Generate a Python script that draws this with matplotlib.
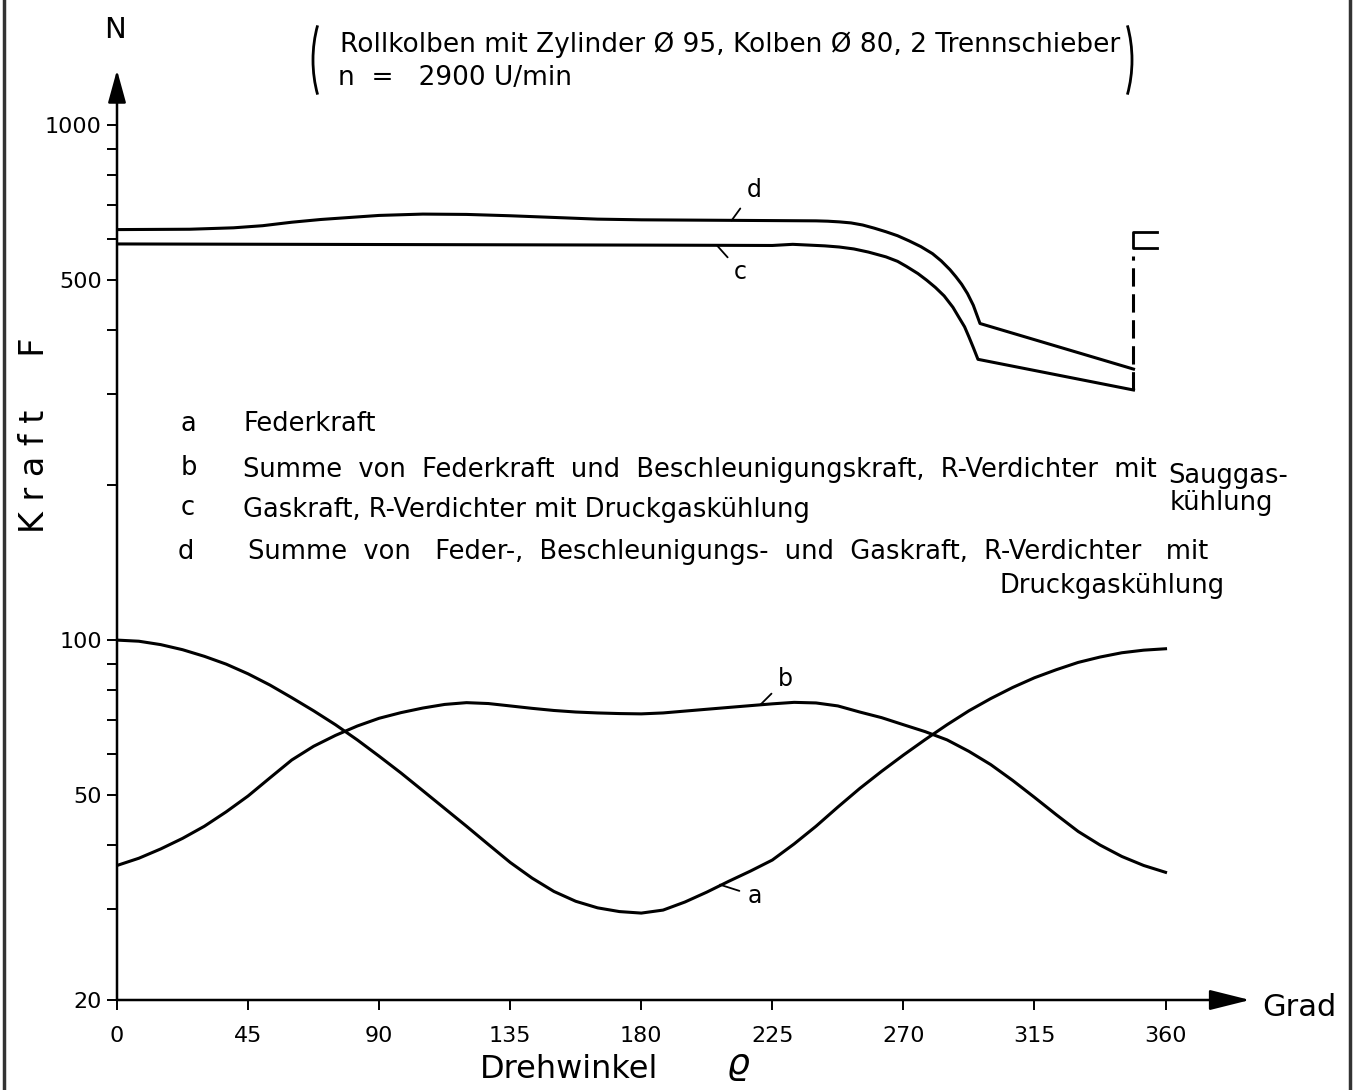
import matplotlib
matplotlib.use("Agg")
import matplotlib.pyplot as plt
from matplotlib.patches import Arc
from matplotlib.lines import Line2D

plt.rcParams['font.family'] = ['DejaVu Sans']

# Drehwinkel (Grad) und Kraft (N)
winkel_a = [0, 7.5, 15, 22.5, 30, 37.5, 45, 52.5, 60, 67.5, 75, 82.5, 90, 97.5, 105, 112.5,
            120, 127.5, 135, 142.5, 150, 157.5, 165, 172.5, 180, 187.5, 195, 202.5, 210,
            217.5, 225, 232.5, 240, 247.5, 255, 262.5, 270, 277.5, 285, 292.5, 300, 307.5,
            315, 322.5, 330, 337.5, 345, 352.5, 360]
kraft_a = [100, 99.5, 98, 95.8, 93, 89.8, 86, 81.8, 77.3, 72.9, 68.5, 64, 59.5, 55.2, 51, 47.1,
           43.5, 40.1, 37, 34.5, 32.5, 31.1, 30.2, 29.7, 29.5, 29.9, 31, 32.4, 34,
           35.6, 37.4, 40.2, 43.5, 47.4, 51.5, 55.6, 59.8, 64.1, 68.5, 72.9, 77, 80.9,
           84.5, 87.6, 90.5, 92.7, 94.5, 95.6, 96.2]

winkel_b = [0, 7.5, 15, 22.5, 30, 37.5, 45, 52.5, 60, 67.5, 75, 82.5, 90, 97.5, 105, 112.5,
            120, 127.5, 135, 142.5, 150, 157.5, 165, 172.5, 180, 187.5, 195, 202.5, 210,
            217.5, 225, 232.5, 240, 247.5, 255, 262.5, 270, 277.5, 285, 292.5, 300, 307.5,
            315, 322.5, 330, 337.5, 345, 352.5, 360]
kraft_b = [36.5, 37.7, 39.3, 41.2, 43.5, 46.4, 49.8, 54, 58.5, 62.2, 65.3, 68.1, 70.5, 72.3,
           73.8, 75, 75.6, 75.3, 74.5, 73.7, 73, 72.5, 72.2, 72, 71.9, 72.2, 72.8, 73.4, 74,
           74.6, 75.2, 75.7, 75.5, 74.5, 72.5, 70.7, 68.5, 66.4, 64, 60.8, 57.3, 53.4,
           49.5, 45.8, 42.5, 40, 38, 36.5, 35.4]

winkel_c = [0, 60, 120, 180, 225, 232, 243, 248, 253, 258, 264, 268, 271, 275, 278, 281,
            284, 287, 289, 291, 292.5, 294, 295.6, 349]
kraft_c = [588, 587, 586, 585, 584, 587, 583, 580, 575, 567, 555, 544, 532, 515, 500, 484,
           466, 443, 424, 406, 388, 370, 351, 306]

winkel_d = [0, 25, 40, 50, 55, 60, 65, 70, 75, 80, 85, 90, 105, 120, 135, 150, 165, 180,
            200, 220, 240, 244, 248, 252, 256, 260, 264, 268, 272, 276, 280, 283, 286,
            288, 290, 292, 294, 296.3, 349]
kraft_d = [627, 628, 632, 638, 643, 648, 652, 656, 659, 662, 665, 668, 672, 671, 667, 662,
           657, 655, 654, 653, 652, 651, 649, 646, 640, 631, 621, 610, 596, 581, 563, 545,
           524, 508, 491, 471, 447, 412, 336]

# Ende der Kurven c/d (gestrichelte Senkrechte) und Klammer oben
ende_winkel = 349
ende_kraft = [306, 557]
klammer_winkel = [357, 349, 349, 357]
klammer_kraft = [620, 620, 577, 577]

x_ticks = [0, 45, 90, 135, 180, 225, 270, 315, 360]
y_ticks = [20, 50, 100, 500, 1000]
y_minor = [30, 40, 60, 70, 80, 90, 200, 300, 400, 600, 700, 800, 900]

W, H = 1355, 1090


def px(x, y):
    return x / W, 1 - y / H


fig = plt.figure(figsize=(W / 100, H / 100), dpi=100)
ax = fig.add_axes([117 / W, 90 / H, (1250 - 117) / W, (1000 - 70) / H])
ax.set_yscale('log')
ax.set_xlim(0, 389)
ax.set_ylim(20, 1280)

lw = 2.2
ax.plot(winkel_a, kraft_a, color='k', lw=lw)
ax.plot(winkel_b, kraft_b, color='k', lw=lw)
ax.plot(winkel_c, kraft_c, color='k', lw=lw)
ax.plot(winkel_d, kraft_d, color='k', lw=lw)
ax.plot([ende_winkel, ende_winkel], ende_kraft, color='k', lw=2.2,
        linestyle=(0, (6, 2.5)))
ax.plot(klammer_winkel, klammer_kraft, color='k', lw=2.0)

# Kurvenbezeichnungen
lab = dict(fontsize=17, ha='center', va='center', textcoords='offset points',
           arrowprops=dict(arrowstyle='-', color='k', lw=1.3, shrinkA=4, shrinkB=0))
ax.annotate('d', xy=(211, 653), xytext=(16, 22), **lab)
ax.annotate('c', xy=(206, 584), xytext=(17, -19), **lab)
ax.annotate('b', xy=(221, 75), xytext=(18, 18), **lab)
ax.annotate('a', xy=(207, 33.5), xytext=(25, -8), **lab)

# Achsen mit Pfeilen
for s in ax.spines.values():
    s.set_visible(False)
ax.annotate('', xy=(1, 0), xytext=(0, 0), xycoords='axes fraction',
            arrowprops=dict(arrowstyle='-|>,head_length=1.0,head_width=0.25',
                            mutation_scale=25, lw=1.8, color='k', shrinkA=0, shrinkB=0))
ax.annotate('', xy=(0, 1), xytext=(0, 0), xycoords='axes fraction',
            arrowprops=dict(arrowstyle='-|>,head_length=0.8,head_width=0.22',
                            mutation_scale=25, lw=1.8, color='k', shrinkA=0, shrinkB=0))

ax.set_xticks(x_ticks)
ax.set_xticklabels([str(v) for v in x_ticks])
ax.xaxis.set_minor_locator(matplotlib.ticker.NullLocator())
ax.set_yticks(y_ticks)
ax.set_yticklabels([str(v) for v in y_ticks])
ax.set_yticks(y_minor, minor=True)
ax.set_yticklabels([], minor=True)
ax.tick_params(axis='both', which='both', direction='out', length=7, width=1.4,
               labelsize=16, color='k')
ax.tick_params(axis='x', pad=12)
ax.tick_params(axis='y', pad=4)

# Beschriftungen
fig.text(*px(115, 30), 'N', fontsize=21, ha='center', va='center')
fig.text(*px(1299, 1008), 'Grad', fontsize=22, ha='center', va='center')
fig.text(*px(569, 1070), 'Drehwinkel', fontsize=23, ha='center', va='center')
fig.text(*px(738, 1066), r'$\varrho$', fontsize=26, ha='center', va='center')
fig.text(*px(35, 435), 'K r a f t     F', fontsize=24, ha='center', va='center',
         rotation=90)

fig.text(*px(340, 45), 'Rollkolben mit Zylinder Ø 95, Kolben Ø 80, 2 Trennschieber',
         fontsize=19, ha='left', va='center')
fig.text(*px(338, 78), 'n  =   2900 U/min', fontsize=19, ha='left', va='center')
fig.add_artist(Arc((3.73, (H - 60) / 100), 1.2, 1.8, theta1=148, theta2=212,
                   transform=fig.dpi_scale_trans, lw=2.0, color='k'))
fig.add_artist(Arc((10.72, (H - 60) / 100), 1.2, 1.8, theta1=-32, theta2=32,
                   transform=fig.dpi_scale_trans, lw=2.0, color='k'))

leg = dict(fontsize=18.5, ha='left', va='center')
fig.text(*px(181, 424), 'a', **leg)
fig.text(*px(243, 424), 'Federkraft', **leg)
fig.text(*px(181, 468), 'b', **leg)
fig.text(*px(243, 470), 'Summe  von  Federkraft  und  Beschleunigungskraft,  R-Verdichter  mit', **leg)
fig.text(*px(1168, 476), 'Sauggas-', **leg)
fig.text(*px(1170, 503), 'kühlung', **leg)
fig.text(*px(181, 508), 'c', **leg)
fig.text(*px(243, 510), 'Gaskraft, R-Verdichter mit Druckgaskühlung', **leg)
fig.text(*px(178, 552), 'd', **leg)
fig.text(*px(248, 552), 'Summe  von   Feder-,  Beschleunigungs-  und  Gaskraft,  R-Verdichter   mit', **leg)
fig.text(*px(1000, 586), 'Druckgaskühlung', **leg)

# Rand der Vorlage
fig.add_artist(Line2D([4 / W, 4 / W], [0, 1], color='#333333', lw=2.5))
fig.add_artist(Line2D([1350 / W, 1350 / W], [0, 1], color='#333333', lw=2.5))

fig.savefig('out.png', dpi=100)
